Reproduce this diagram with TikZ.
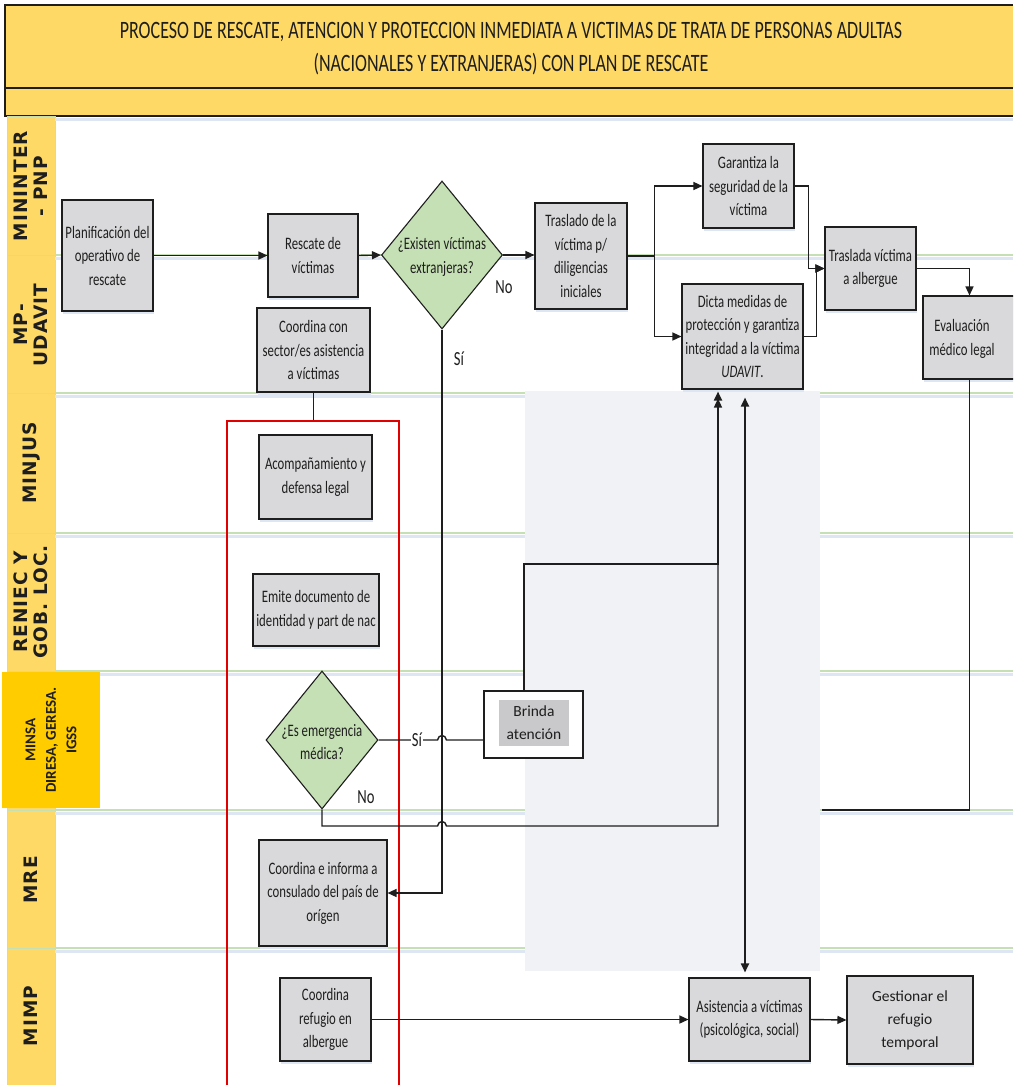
\documentclass[tikz,border=0pt]{standalone}
\usepackage{fontspec}
\usetikzlibrary{shapes.geometric,arrows.meta,shadows,calc}
\newfontfamily\nf[FakeStretch=0.73]{Carlito}
\newfontfamily\tf[FakeStretch=0.72]{Carlito}
\newfontfamily\nfn{Carlito}
\newfontfamily\lanef[LetterSpace=6]{DejaVu Sans}
\definecolor{titley}{HTML}{FFD966}
\definecolor{laney}{HTML}{FFD966}
\definecolor{minsay}{HTML}{FFCC00}
\definecolor{boxg}{HTML}{D9D9DB}
\definecolor{diag}{HTML}{C5E0B4}
\definecolor{regiong}{HTML}{F0F2F5}
\definecolor{lanel}{HTML}{C5E0B4}
\definecolor{shadowb}{HTML}{DDE6F2}
\definecolor{ink}{HTML}{1E1E1E}
\definecolor{redl}{HTML}{E00000}
\definecolor{brg}{HTML}{C9C9CB}
\tikzset{
  box/.style={draw=ink, line width=1.1pt, fill=boxg, inner sep=0pt, align=center,
    font=\nf\fontsize{17.5}{23.5}\selectfont, text=ink,
    drop shadow={shadow xshift=1pt, shadow yshift=-3pt, fill=shadowb, opacity=1}},
  dia/.style={diamond, draw=ink, line width=1.1pt, fill=diag, inner sep=0pt},
  dtext/.style={align=center, font=\nf\fontsize{17.5}{23.5}\selectfont, text=ink, inner sep=0pt},
  conn/.style={draw=ink, line width=1.4pt},
  arr/.style={conn, -{Triangle[length=9pt,width=8pt]}},
  lbl/.style={font=\nf\fontsize{20}{20}\selectfont, text=ink, inner sep=1pt},
  lanetxt/.style={rotate=90, align=center, font=\lanef\bfseries\fontsize{18.5}{20}\selectfont, text=ink, inner sep=0pt},
}
\begin{document}
\begin{tikzpicture}[x=1pt,y=-1pt]
\useasboundingbox (0,0) rectangle (1013,1085);
\clip (0,0) rectangle (1013,1085);
\fill[white] (0,0) rectangle (1013,1085);
% title band
\fill[titley] (5,5) rectangle (1013,116);
\draw[ink, line width=1.3pt] (1013,5) -- (5,5) -- (5,116) -- (1013,116);
\draw[ink, line width=1.3pt] (5,88) -- (1013,88);
\node[font=\tf\fontsize{25}{33}\selectfont, align=center, text=ink] (title) at (511,49)
  {PROCESO DE RESCATE, ATENCION Y PROTECCION INMEDIATA A VICTIMAS DE TRATA DE PERSONAS ADULTAS\\(NACIONALES Y EXTRANJERAS) CON PLAN DE RESCATE};
% lane label column
\foreach \a/\b in {116/255,255/393,393/533,533/671,671/810,810/948,948/1090}
  \draw[draw=lanel, fill=laney, line width=1pt] (7,\a) rectangle (55,\b);
% lane lines
\foreach \y in {255,393,533,671,810,948}{
  \draw[shadowb, line width=3pt] (55,\y+3) -- (1013,\y+3);
  \draw[lanel, line width=1.6pt] (55,\y) -- (1013,\y);
}
\draw[shadowb, line width=3pt] (55,119) -- (1013,119);
% MINSA label
\fill[minsay] (2,672) rectangle (100,808);
\node[lanetxt] (l1) at (31,186) {MININTER\\- PNP};
\node[lanetxt] (l2) at (31,325) {MP-\\UDAVIT};
\node[lanetxt] (l3) at (31,463) {MINJUS};
\node[lanetxt] (l4) at (31,602) {RENIEC Y\\GOB. LOC.};
\node[rotate=90, align=center, font=\nfn\bfseries\fontsize{15}{20.5}\selectfont, text=ink, inner sep=0pt] (l5) at (51,740) {MINSA\\DIRESA, GERESA.\\IGSS};
\node[lanetxt] (l6) at (31,880) {MRE};
\node[lanetxt] (l7) at (31,1016) {MIMP};
% gray region
\fill[regiong] (525,391) rectangle (820,971);
% red group
\node[draw=redl, line width=1.1pt, minimum width=172pt, minimum height=680pt, inner sep=0pt] (grp) at (313,761) {};
% nodes
\node[box, minimum width=91pt, minimum height=111pt] (plan) at (107.5,255.5) {Planificación del\\operativo de\\rescate};
\node[box, minimum width=90pt, minimum height=83pt] (resc) at (313,255.5) {Rescate de\\víctimas};
\node[dia, minimum width=121pt, minimum height=148pt] (d1) at (442,255) {};
\node[dtext] (d1t) at (442,257) {¿Existen víctimas\\extranjeras?};
\node[box, minimum width=113pt, minimum height=84pt] (coord1) at (313.5,350) {Coordina con\\sector/es asistencia\\a víctimas};
\node[box, minimum width=92pt, minimum height=106pt] (tras) at (581,256) {Traslado de la\\víctima p/\\diligencias\\iniciales};
\node[box, minimum width=91pt, minimum height=84pt] (gar) at (748.5,186) {Garantiza la\\seguridad de la\\víctima};
\node[box, minimum width=121pt, minimum height=105pt] (dicta) at (742.5,336.5) {Dicta medidas de\\protección y garantiza\\integridad a la víctima\\\textit{UDAVIT}.};
\node[box, minimum width=91pt, minimum height=83pt] (tral) at (870.5,268.5) {Traslada víctima\\a albergue};
\node[box, minimum width=93pt, minimum height=83pt] (eval) at (969.5,337.5) {};
\node[dtext] (evalt) at (962,339) {Evaluación\\médico legal};
\node[box, minimum width=113pt, minimum height=84pt] (acomp) at (315.5,477) {Acompañamiento y\\defensa legal};
\node[box, minimum width=126pt, minimum height=72pt] (emite) at (316,610) {Emite documento de\\identidad y part de nac};
\node[dia, minimum width=112pt, minimum height=138pt] (d2) at (322,740) {};
\node[dtext] (d2t) at (322,742) {¿Es emergencia\\médica?};
\node[draw=ink, line width=1.4pt, fill=white, minimum width=99pt, minimum height=67pt, inner sep=0pt] (brinda) at (533.5,724.5) {};
\node[fill=brg, minimum width=70pt, minimum height=46pt, inner sep=0pt, align=center, font=\nfn\fontsize{15.5}{23}\selectfont, text=ink] (brindat) at (534,723) {Brinda\\atención};
\node[box, minimum width=128pt, minimum height=106pt] (coordinf) at (323,893) {Coordina e informa a\\consulado del país de\\orígen};
\node[box, minimum width=91pt, minimum height=83pt] (crefug) at (325.5,1019.5) {Coordina\\refugio en\\albergue};
\node[box, minimum width=121pt, minimum height=83pt] (asist) at (749.5,1019.5) {Asistencia a víctimas\\(psicológica, social)};
\node[box, minimum width=126pt, minimum height=88pt, font=\nfn\fontsize{15.5}{23}\selectfont] (gest) at (910,1020) {Gestionar el\\refugio\\temporal};
% helper coordinates
\coordinate (xa) at (718,0);
\coordinate (xb) at (524,0);
\coordinate (xc) at (745,0);
\coordinate (tipB) at ($(dicta.south -| xa)+(0,2)$);
\coordinate (tipA) at ($(dicta.south -| xa)+(0,9)$);
\coordinate (tipC) at ($(dicta.south -| xc)+(0,8)$);
\coordinate (tipD) at ($(asist.north -| xc)+(0,-5)$);
\coordinate (evend) at (822,810);
% connectors
\draw[arr] (plan.east) -- (resc.west |- plan.east);
\draw[arr] (resc.east) -- (d1.west);
\draw[arr] (d1.east) -- (tras.west |- d1.east);
\node[lbl] (no1) at (504,287) {No};
\draw[arr] (tras.east) -- ++(27,0) |- (gar.west);
\draw[arr] (tras.east) -- ++(27,0) |- (dicta.west);
\draw[arr] (gar.east) -- ++(14,0) |- (tral.west);
\draw[arr] (dicta.east) -- ++(13,0) |- (tral.west);
\draw[arr] (tral.east) -| (eval.north);
\draw[conn] (eval.south) -- (eval.south |- evend) -- (evend);
\draw[arr] (d1.south) -- (d1.south |- coordinf.east) -- (coordinf.east);
\node[lbl] (si1) at (459,359) {Sí};
\draw[conn, line width=1pt] (coord1.south) -- (coord1.south |- grp.north);
\draw[conn] (d2.east) -- (437.5,740) .. controls (438.5,734) and (445.5,734) .. (446.5,740) -- (d2.east -| brinda.west);
\node[lbl, fill=white] (si2) at (417,740) {Sí};
\node[lbl] (no2) at (366,797) {No};
\draw[arr] (d2.south) -- (322,826) -- (437.5,826) .. controls (438.5,820) and (445.5,820) .. (446.5,826) -- (718,826) -- (tipA);
\draw[arr, line width=1.8pt] (xb |- brinda.north) -- (524,564) -- (718,564) -- (tipB);
\draw[conn, line width=1.8pt, {Triangle[length=9pt,width=8pt]}-{Triangle[length=9pt,width=8pt]}] (tipC) -- (tipD);
\draw[arr] (crefug.east) -- (asist.west);
\draw[arr] (asist.east) -- (gest.west);
\end{tikzpicture}
\end{document}
